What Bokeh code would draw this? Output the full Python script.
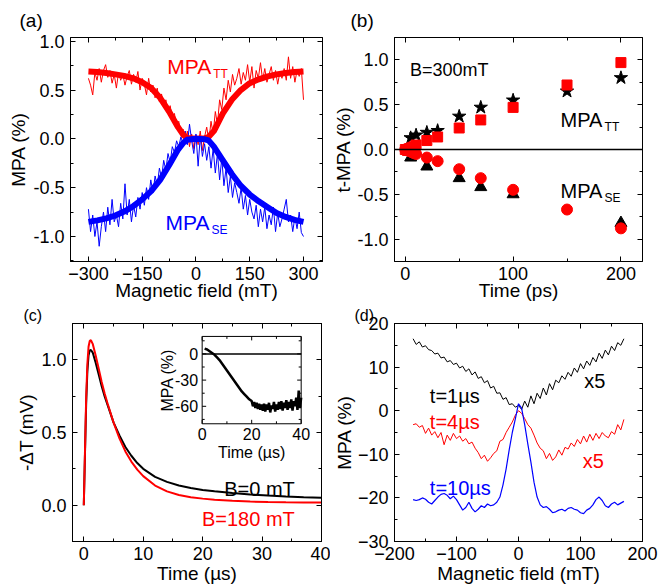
import numpy as np
from bokeh.plotting import figure
from bokeh.layouts import column, row
from bokeh.models import (Range1d, FixedTicker, LinearAxis, Label, Span, NumeralTickFormatter,
                          Title, CustomLabelingPolicy)
from bokeh.embed import file_html
from bokeh.resources import INLINE
from bokeh.core.properties import value

FONT = "Liberation Sans"
TICK_FS = "18px"
TITLE_FS = "19px"
RED = "#ff0000"
BLUE = "#0000ff"

# ---------------- Panel (a) data ----------------
a_fit_B = [-300, -275, -250, -225, -200, -175, -150, -125, -100, -75, -50, -35, -25, 0,
           25, 35, 50, 75, 100, 125, 150, 175, 200, 225, 250, 275, 300]
a_fit_tt = [0.69, 0.685, 0.675, 0.66, 0.645, 0.62, 0.58, 0.52, 0.42, 0.28, 0.12, 0.04, 0.01, 0.0,
            0.005, 0.02, 0.08, 0.26, 0.40, 0.50, 0.57, 0.61, 0.64, 0.66, 0.675, 0.685, 0.69]
a_fit_se = [-0.85, -0.835, -0.815, -0.785, -0.745, -0.69, -0.62, -0.535, -0.42, -0.27, -0.11, -0.04, -0.01, 0.0,
            -0.005, -0.015, -0.08, -0.22, -0.36, -0.48, -0.57, -0.64, -0.70, -0.76, -0.80, -0.83, -0.85]
a_noisy_tt = [0.62, 0.55, 0.45, 0.68, 0.60, 0.72, 0.58, 0.70, 0.76, 0.63, 0.70, 0.57, 0.66, 0.52, 0.68,
              0.60, 0.66, 0.55, 0.64, 0.70, 0.56, 0.66, 0.58, 0.69, 0.50, 0.62, 0.56, 0.45, 0.62, 0.48,
              0.55, 0.42, 0.52, 0.38, 0.46, 0.32, 0.40, 0.28, 0.34, 0.22, 0.26, 0.12, 0.18, 0.05, 0.10,
              -0.05, 0.08, -0.08, 0.05, -0.10, 0.04, -0.06, 0.08, -0.12, 0.02, 0.12, -0.02, 0.18, 0.05,
              0.28, 0.15, 0.40, 0.30, 0.52, 0.40, 0.60, 0.48, 0.66, 0.55, 0.62, 0.72, 0.56, 0.68, 0.60,
              0.76, 0.58, 0.74, 0.52, 0.70, 0.62, 0.78, 0.60, 0.72, 0.58, 0.66, 0.74, 0.60, 0.70, 0.56,
              0.68, 0.62, 0.72, 0.60, 0.84, 0.62, 0.74, 0.58, 0.70, 0.64, 0.72, 0.40]
a_noisy_se = [-0.72, -0.95, -0.78, -1.0, -0.85, -1.1, -0.90, -0.75, -0.95, -0.70, -0.88, -0.62, -0.85,
              -0.78, -0.90, -0.66, -0.82, -0.46, -0.78, -0.62, -0.85, -0.68, -0.80, -0.60, -0.72, -0.55,
              -0.68, -0.50, -0.62, -0.42, -0.55, -0.38, -0.48, -0.30, -0.40, -0.22, -0.32, -0.15, -0.24,
              -0.08, -0.14, -0.02, -0.08, 0.02, -0.05, 0.08, -0.06, 0.15, -0.02, -0.15, 0.05, -0.28, 0.02,
              -0.18, -0.05, -0.22, -0.08, -0.30, -0.10, -0.35, -0.15, -0.42, -0.20, -0.48, -0.30, -0.55,
              -0.38, -0.60, -0.45, -0.55, -0.66, -0.50, -0.72, -0.58, -0.78, -0.62, -0.75, -0.82, -0.68,
              -0.90, -0.72, -0.85, -0.70, -0.92, -0.78, -0.88, -0.70, -0.95, -0.76, -0.90, -0.82, -0.72,
              -0.62, -0.85, -0.78, -0.95, -0.80, -0.92, -0.75, -0.96, -1.0]

# ---------------- Panel (b) data ----------------
b_sq_t = [0, 2, 4, 6, 8, 10, 20, 30, 50, 70, 100, 150, 200]
b_sq_v = [0.0, -0.01, 0.01, 0.02, 0.03, 0.05, 0.10, 0.14, 0.24, 0.33, 0.47, 0.72, 0.97]
b_ci_t = [0, 2, 4, 6, 8, 10, 20, 30, 50, 70, 100, 150, 200]
b_ci_v = [0.0, -0.01, -0.02, -0.03, -0.04, -0.05, -0.09, -0.13, -0.22, -0.32, -0.45, -0.67, -0.88]
b_star_t = [5, 10, 20, 30, 50, 70, 100, 150, 200]
b_star_v = [0.13, 0.16, 0.19, 0.21, 0.37, 0.47, 0.55, 0.65, 0.80]
b_tri_t = [5, 20, 50, 70, 100, 200]
b_tri_v = [-0.09, -0.19, -0.32, -0.42, -0.50, -0.82]

# ---------------- Panel (c) data ----------------
c_t = [0, 0.2, 0.4, 0.6, 0.8, 1.0, 1.2, 1.5, 2, 2.5, 3, 3.5, 4, 5, 6, 7, 8, 9, 10, 12, 14, 16, 18,
       20, 22, 25, 28, 31, 34, 37, 40]
c_b0 = [0, 0.35, 0.70, 0.92, 1.03, 1.065, 1.068, 1.05, 0.98, 0.90, 0.82, 0.75, 0.69, 0.57, 0.48, 0.40,
        0.34, 0.29, 0.25, 0.195, 0.16, 0.135, 0.118, 0.105, 0.095, 0.083, 0.074, 0.066, 0.060, 0.055, 0.051]
c_b180 = [0, 0.37, 0.74, 0.97, 1.09, 1.13, 1.135, 1.11, 1.03, 0.94, 0.85, 0.77, 0.70, 0.57, 0.46, 0.37,
          0.30, 0.245, 0.20, 0.135, 0.095, 0.070, 0.055, 0.045, 0.037, 0.030, 0.025, 0.022, 0.020, 0.019, 0.018]
ins_t = [1, 2, 3, 4, 5, 6, 7, 8, 9, 10, 11, 12, 13, 14, 15, 16, 17, 18, 19,
         20, 20.5, 21, 21.5, 22, 22.5, 23, 23.5, 24, 24.5, 25, 25.5, 26, 26.5, 27, 27.5, 28, 28.5,
         29, 29.5, 30, 30.5, 31, 31.5, 32, 32.5, 33, 33.5, 34, 34.5, 35, 35.5, 36, 36.5, 37, 37.5,
         38, 38.5, 39, 39.5, 40]
ins_v = [6, 5, 3, 1, -1, -4, -7, -11, -15, -19, -23, -27, -31, -35, -39, -43, -46, -49, -52,
         -54, -60, -55, -62, -56, -63, -57, -64, -58, -65, -57, -66, -58, -64, -56, -67, -59, -63,
         -55, -66, -58, -64, -55, -63, -54, -65, -56, -62, -53, -64, -55, -62, -52, -65, -54, -60,
         -50, -64, -42, -62, -50]

# ---------------- Panel (d) data ----------------
d_B = [-170, -165, -160, -155, -150, -145, -140, -135, -130, -125, -120, -115, -110, -105, -100,
       -95, -90, -85, -80, -75, -70, -65, -60, -55, -50, -45, -40, -35, -30, -25, -20, -15, -10, -5,
       0, 5, 10, 15, 20, 25, 30, 35, 40, 45, 50, 55, 60, 65, 70, 75, 80, 85, 90, 95, 100, 105, 110,
       115, 120, 125, 130, 135, 140, 145, 150, 155, 160, 165, 170]
d_t1 = [16.5, 15.2, 15.8, 14.6, 14.9, 14.0, 13.8, 13.0, 13.2, 12.1, 12.3, 11.2, 11.5, 10.6, 10.9,
        9.8, 10.2, 9.0, 9.6, 8.2, 8.9, 7.4, 7.8, 6.4, 6.9, 5.2, 5.6, 4.0, 4.1, 2.6, 3.0, 1.4, 1.6, 0.8,
        1.2, 0.3, 2.2, 0.8, 3.4, 1.6, 4.0, 2.8, 5.2, 3.6, 6.2, 4.8, 7.0, 6.4, 8.0, 7.2, 8.8, 7.9, 9.8,
        8.8, 10.8, 9.6, 11.4, 10.4, 12.2, 11.2, 13.2, 12.0, 13.9, 12.8, 14.8, 13.8, 15.6, 15.0, 16.5]
d_t4 = [-3.2, -3.0, -3.8, -3.4, -5.2, -4.0, -5.6, -4.8, -6.2, -5.0, -7.8, -5.6, -6.8, -5.2, -6.4,
        -5.8, -7.0, -6.4, -7.6, -7.2, -8.6, -9.6, -11.0, -10.2, -11.6, -10.8, -9.8, -9.2, -7.0, -6.6,
        -5.0, -3.8, -2.6, -1.0, 0.0, -0.6, -1.8, -3.2, -4.0, -5.6, -7.4, -8.6, -9.2, -11.0, -9.8,
        -11.4, -10.6, -9.0, -10.2, -8.4, -8.8, -7.4, -8.2, -6.6, -7.6, -5.8, -7.2, -5.4, -6.8, -5.2,
        -6.4, -5.0, -5.8, -6.2, -4.8, -5.4, -3.2, -4.4, -2.0]
d_t10 = [-20.4, -20.6, -20.4, -20.0, -20.3, -21.0, -21.4, -20.6, -19.8, -19.2, -19.0, -19.4, -20.2,
         -19.6, -20.4, -21.6, -22.8, -22.2, -21.0, -22.4, -23.2, -22.6, -21.8, -22.2, -21.4, -21.8,
         -21.6, -21.0, -19.8, -17.0, -13.4, -9.0, -5.0, -1.8, 1.6, 0.6, -3.2, -7.6, -11.8, -16.4,
         -19.8, -21.6, -22.2, -22.0, -22.6, -23.4, -23.2, -22.8, -22.6, -23.0, -22.4, -22.2, -22.6,
         -22.8, -23.4, -23.6, -22.8, -22.4, -21.6, -20.4, -19.8, -20.6, -21.8, -22.2, -21.4, -21.0,
         -21.6, -21.2, -20.8]


def make_fig(w, h, xr, yr, bl, br, bt, bb):
    p = figure(width=w, height=h, x_range=Range1d(*xr), y_range=Range1d(*yr),
               output_backend="svg", toolbar_location=None, title=None,
               min_border_left=bl, min_border_right=br, min_border_top=bt, min_border_bottom=bb)
    p.xgrid.visible = False
    p.ygrid.visible = False
    p.outline_line_color = "black"
    p.outline_line_width = 1
    p.background_fill_color = "white"
    p.border_fill_color = "white"
    return p


def style_axis(ax, ticks, minor, label, fmt=None, lab_standoff=0, tick_standoff=5):
    ax.ticker = FixedTicker(ticks=ticks, minor_ticks=minor)
    ax.major_tick_in = 5
    ax.major_tick_out = 0
    ax.minor_tick_in = 3
    ax.minor_tick_out = 0
    ax.major_tick_line_color = "black"
    ax.minor_tick_line_color = "black"
    ax.axis_line_color = "black"
    ax.major_label_text_font = FONT
    ax.major_label_text_font_size = TICK_FS
    ax.major_label_text_color = "black"
    ax.major_label_standoff = tick_standoff
    ax.axis_label = label
    ax.axis_label_text_font = FONT
    ax.axis_label_text_font_size = TITLE_FS
    ax.axis_label_text_font_style = "normal"
    ax.axis_label_text_color = "black"
    ax.axis_label_standoff = lab_standoff
    if fmt is not None:
        ax.formatter = fmt


NO_LABELS = "for (const i of indices) { indices.unset(i) }\nreturn indices"


def mirror(p, xt, xm, yt, ym):
    for loc, t, m in (("above", xt, xm), ("right", yt, ym)):
        ax = LinearAxis(ticker=FixedTicker(ticks=t, minor_ticks=m),
                        major_label_policy=CustomLabelingPolicy(code=NO_LABELS))
        ax.major_tick_in = 5
        ax.major_tick_out = 0
        ax.minor_tick_in = 3
        ax.minor_tick_out = 0
        ax.major_label_text_font_size = "0px"
        ax.major_label_standoff = 0
        ax.axis_line_color = "black"
        p.add_layout(ax, loc)


def setup(p, xt, xm, yt, ym, xlabel, ylabel, xfmt=None, yfmt=None, ystand=0, xstand=-3):
    style_axis(p.xaxis[0], xt, xm, xlabel, xfmt, xstand, 5)
    style_axis(p.yaxis[0], yt, ym, ylabel, yfmt, ystand, 6)
    mirror(p, xt, xm, yt, ym)


def label(p, x, y, text, color="black", size="20px", align="left", xo=0, yo=0):
    p.add_layout(Label(x=x, y=y, text=text, text_color=color,
                       text_font=FONT, text_font_size=size, text_align=align,
                       text_baseline="alphabetic", x_offset=xo, y_offset=yo))


def panel_tag(p, text, offset, standoff, size):
    p.add_layout(Title(text=text, align="left", offset=offset, standoff=standoff,
                       text_font=FONT, text_font_size=size, text_font_style="normal",
                       text_color="black"), "above")


# ---------------- Panel (a) ----------------
pa = make_fig(330, 304, (-350, 353), (-1.256, 1.038), 70, 8, 37, 43)
setup(pa, [-300, -150, 0, 150, 300], [-225, -75, 75, 225],
      [-1.0, -0.5, 0.0, 0.5, 1.0], [-1.25, -0.75, -0.25, 0.25, 0.75],
      "Magnetic field (mT)", "MPA (%)", yfmt=NumeralTickFormatter(format="0.0"), ystand=1)
pa.line(np.linspace(a_fit_B[0], a_fit_B[-1], len(a_noisy_tt)), a_noisy_tt, line_color=RED, line_width=1)
pa.line(np.linspace(a_fit_B[0], a_fit_B[-1], len(a_noisy_se)), a_noisy_se, line_color=BLUE, line_width=1)
pa.line(a_fit_B, a_fit_tt, line_color=RED, line_width=6)
pa.line(a_fit_B, a_fit_se, line_color=BLUE, line_width=6)
label(pa, -80, 0.74, "MPA", RED, "21px")
label(pa, -80, 0.74, "TT", RED, "12px", xo=46, yo=-7)
label(pa, -85, -0.857, "MPA", BLUE, "21px")
label(pa, -85, -0.857, "SE", BLUE, "12px", xo=46, yo=-7)
panel_tag(pa, "(a)", -51, 13, "19px")

# ---------------- Panel (b) ----------------
pb = make_fig(329, 304, (-10, 220), (-1.25, 1.25), 61, 17, 37, 43)
setup(pb, [0, 100, 200], [50, 150],
      [-1.0, -0.5, 0.0, 0.5, 1.0], [-0.75, -0.25, 0.25, 0.75],
      "Time (ps)", "t-MPA (%)", yfmt=NumeralTickFormatter(format="0.0"), ystand=0)
pb.add_layout(Span(location=0, dimension="width", line_color="black", line_width=1.5))
pb.scatter(b_star_t, b_star_v, marker="star", size=14, color="black")
pb.scatter(b_tri_t, b_tri_v, marker="triangle", size=12, color="black")
pb.scatter(b_sq_t, b_sq_v, marker="square", size=10, color=RED)
pb.scatter(b_ci_t, b_ci_v, marker="circle", size=11, color=RED)
label(pb, 4.3, 0.888, "B=300mT", "black", "18px")
label(pb, 144, 0.326, "MPA", "black", "20px")
label(pb, 144, 0.326, "TT", "black", "12px", xo=44, yo=-7)
label(pb, 144, -0.46, "MPA", "black", "20px")
label(pb, 144, -0.46, "SE", "black", "12px", xo=44, yo=-7)
panel_tag(pb, "(b)", -44, 13, "19px")

# ---------------- Panel (c) ----------------
pc = make_fig(330, 284, (-1.9, 40), (-0.25, 1.25), 72, 9, 18, 47)
setup(pc, [0, 10, 20, 30, 40], [5, 15, 25, 35],
      [0.0, 0.5, 1.0], [-0.25, 0.25, 0.75, 1.25],
      "Time (µs)", "-ΔT (mV)", yfmt=NumeralTickFormatter(format="0.0"), ystand=1, xstand=0)
pc.line(c_t, c_b0, line_color="black", line_width=2)
pc.line(c_t, c_b180, line_color=RED, line_width=2)
label(pc, 35.5, 0.113, "B=0 mT", "black", "20px", align="right")
label(pc, 35.5, -0.095, "B=180 mT", RED, "20px", align="right")
panel_tag(pc, "(c)", -49, 0, "16px")

# inset
ins_xr = (0, 40)
ins_yr = (-80, 20)
ins_xt, ins_xm = [0, 20, 40], [10, 30]
ins_yt, ins_ym = [0, -30, -60], [15, -15, -45, -75]
sub = pc.subplot(x_source=Range1d(*ins_xr), y_source=Range1d(*ins_yr),
                 x_target=Range1d(19.92, 36.58), y_target=Range1d(0.560, 1.161))
x0, x1 = ins_xr
y0, y1 = ins_yr
sub.quad(left=[x0], right=[x1], bottom=[y0], top=[y1], fill_color="white", line_color="black", line_width=1)
sub.segment(x0=[x0], y0=[0], x1=[x1], y1=[0], line_color="black", line_width=1.5)
sub.line(ins_t, ins_v, line_color="black", line_width=2.5)
tick_y = (y1 - y0) / 88.0   # units per px (vertical)
tick_x = (x1 - x0) / 99.0   # units per px (horizontal)
for ticks, L in ((ins_xt, 4), (ins_xm, 2.5)):
    n = len(ticks)
    sub.segment(x0=ticks, y0=[y0] * n, x1=ticks, y1=[y0 + L * tick_y] * n, line_color="black")
    sub.segment(x0=ticks, y0=[y1] * n, x1=ticks, y1=[y1 - L * tick_y] * n, line_color="black")
for ticks, L in ((ins_yt, 4), (ins_ym, 2.5)):
    n = len(ticks)
    sub.segment(x0=[x0] * n, y0=ticks, x1=[x0 + L * tick_x] * n, y1=ticks, line_color="black")
    sub.segment(x0=[x1] * n, y0=ticks, x1=[x1 - L * tick_x] * n, y1=ticks, line_color="black")
sub.text(x=ins_xt, y=[y0] * 3, text=[str(v) for v in ins_xt], text_align="center", text_baseline="top",
         y_offset=4, text_font=value(FONT), text_font_size="16px", text_color="black")
sub.text(x=[x0] * 3, y=ins_yt, text=[str(v) for v in ins_yt], text_align="right", text_baseline="middle",
         x_offset=-4, text_font=value(FONT), text_font_size="16px", text_color="black")
sub.text(x=[(x0 + x1) / 2], y=[y0], text=["Time (µs)"], text_align="center", text_baseline="top",
         y_offset=20, text_font=value(FONT), text_font_size="16px", text_color="black")
sub.text(x=[x0], y=[-30], text=["MPA (%)"], text_align="center", text_baseline="bottom", angle=np.pi / 2,
         x_offset=-26, text_font=value(FONT), text_font_size="16px", text_color="black")

# ---------------- Panel (d) ----------------
pd_ = make_fig(329, 284, (-200, 200), (-30, 20), 63, 17, 18, 47)
setup(pd_, [-200, -100, 0, 100, 200], [-150, -50, 50, 150],
      [-30, -20, -10, 0, 10, 20], [-25, -15, -5, 5, 15],
      "Magnetic field (mT)", "MPA (%)", ystand=0, xstand=0)
pd_.line(d_B, d_t1, line_color="black", line_width=1)
pd_.line(d_B, d_t4, line_color=RED, line_width=1)
pd_.line(d_B, d_t10, line_color=BLUE, line_width=1.2)
label(pd_, -143, 3.3, "t=1µs", "black", "20px")
label(pd_, -143, -2.6, "t=4µs", RED, "20px")
label(pd_, -143, -17.8, "t=10µs", BLUE, "20px")
label(pd_, 106, 6.7, "x5", "black", "20px")
label(pd_, 103.5, -11.5, "x5", RED, "20px")
panel_tag(pd_, "(d)", -40, 0, "16px")

layout = column(row(pa, pb), row(pc, pd_))
open("out.html", "w").write(file_html(layout, INLINE))
